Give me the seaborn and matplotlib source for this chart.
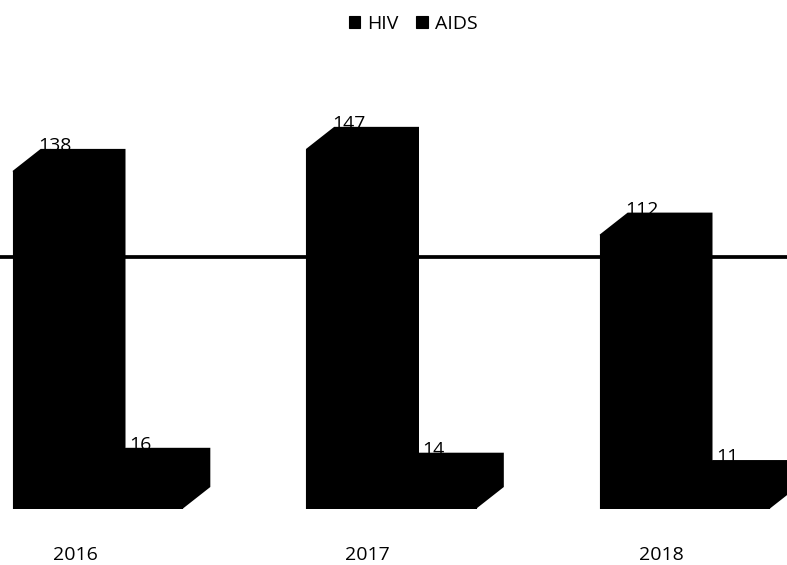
import matplotlib
matplotlib.use("Agg")
import matplotlib.pyplot as plt
import pandas as pd
import seaborn as sns

years = ["2016", "2017", "2018"]
hiv_cases = [138, 147, 112]
aids_cases = [16, 14, 11]
series_names = ["HIV", "AIDS"]
gridline_value = 103

sns.set_theme(style="white")
plt.rcParams["font.family"] = ["Open Sans", "DejaVu Sans"]

df = pd.DataFrame({
    "year": years * 2,
    "series": [series_names[0]] * 3 + [series_names[1]] * 3,
    "cases": hiv_cases + aids_cases,
})

W, H = 787, 565
fig = plt.figure(figsize=(W / 100, H / 100), dpi=100)
ax = fig.add_axes([0, 56 / H, 1, 509 / H])

sns.barplot(data=df, x="year", y="cases", hue="series", palette=["black", "black"],
            saturation=1, width=0.578, gap=0, edgecolor="black", linewidth=0.8, ax=ax)

# pixel scale of the scanned chart: 293.5 px per category, 2.45 px per case
ax.set_xlim(-97.5 / 293.5, (W - 97.5) / 293.5)
ax.set_ylim(0, 509 / 2.45)
depth_x = 28 / 293.5
depth_y = 22 / 2.45

ax.axhline(gridline_value, color="black", linewidth=2.7, zorder=1)

# fake 3D: extrude each bar up and to the right, labels sit behind the bars
for container in ax.containers:
    for bar in container:
        x0, w, h = bar.get_x(), bar.get_width(), bar.get_height()
        bar.set_zorder(3)
        ax.fill([x0, x0 + depth_x, x0 + w + depth_x, x0 + w + depth_x, x0 + w],
                [h, h + depth_y, h + depth_y, depth_y, 0],
                color="black", linewidth=0, zorder=3)
        ax.text(x0 + w / 2, h + depth_y + 12 / 2.45, f"{h:.0f}", ha="center", va="top",
                fontsize=14, color="black", zorder=2)

ax.set_xticks([-0.075, 0.92, 1.92])
ax.set_xticklabels(years, fontsize=14, color="black")
ax.tick_params(axis="x", length=0, pad=27)
ax.set_xlabel("")
ax.set_ylabel("")
ax.set_yticks([])
sns.despine(ax=ax, left=True, bottom=True)

handles, labels = ax.get_legend_handles_labels()
ax.legend(handles, labels, loc="center", bbox_to_anchor=(413 / W, 1 - 24 / H),
          bbox_transform=fig.transFigure, ncol=2, frameon=False, fontsize=14,
          handlelength=0.6, handleheight=0.6, handletextpad=0.35, columnspacing=0.9,
          labelcolor="black")

fig.savefig("out.png", dpi=100)
